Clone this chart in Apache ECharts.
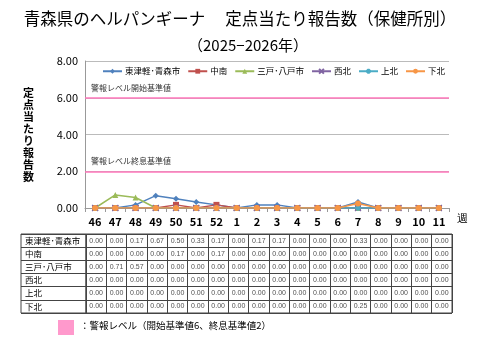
<!DOCTYPE html>
<html><head><meta charset="utf-8">
<script src="https://cdn.jsdelivr.net/npm/echarts@6/dist/echarts.min.js"></script>
<style>html,body{margin:0;padding:0;background:#fff}#c{width:480px;height:360px}</style>
</head><body><div id="c"></div>
<script>
const weeks = ['46','47','48','49','50','51','52','1','2','3','4','5','6','7','8','9','10','11'];
const regions = ['東津軽･青森市','中南','三戸･八戸市','西北','上北','下北'];
const tohtsugaru = [0,0,0.17,0.67,0.50,0.33,0.17,0,0.17,0.17,0,0,0,0.33,0,0,0,0];
const chunan     = [0,0,0,0,0.17,0,0.17,0,0,0,0,0,0,0,0,0,0,0];
const sannohe    = [0,0.71,0.57,0,0,0,0,0,0,0,0,0,0,0,0,0,0,0];
const seihoku    = [0,0,0,0,0,0,0,0,0,0,0,0,0,0,0,0,0,0];
const kamikita   = [0,0,0,0,0,0,0,0,0,0,0,0,0,0,0,0,0,0];
const shimokita  = [0,0,0,0,0,0,0,0,0,0,0,0,0,0.25,0,0,0,0];
const yTicks = [0,2,4,6,8];
const alarmStart = 6, alarmEnd = 2;

const allSeries = [tohtsugaru, chunan, sannohe, seihoku, kamikita, shimokita];
const colors = ['#4F81BD','#C0504D','#9BBB59','#8064A2','#4BACC6','#F79646'];
const symbols = ['diamond','rect','triangle','path://M0,0L10,10M10,0L0,10','path://M5,0L5,10M0,5L10,5M1.5,1.5L8.5,8.5M8.5,1.5L1.5,8.5','circle'];
const sizes = [6,6,6,6,6,6];
const font = '"Noto Sans CJK JP", sans-serif';

const lineSeries = regions.map((r,i)=>({
  name: r, type:'line', xAxisIndex:0, yAxisIndex:0,
  data: allSeries[i], symbol: symbols[i], symbolSize: sizes[i],
  lineStyle:{color:colors[i], width:1.5},
  itemStyle:{color:colors[i], borderColor:colors[i], borderWidth: (i===3||i===4)?1.2:0},
  z: 3+i
}));
lineSeries[0].markLine = {
  silent:true, symbol:'none',
  lineStyle:{color:'#FF77BB', width:1.5, type:'solid'},
  label:{show:true, position:'insideStartTop', color:'#333', fontSize:8, fontFamily:font, distance:[6,6]},
  data:[
    {yAxis: alarmStart, label:{formatter:'警報レベル開始基準値'}},
    {yAxis: alarmEnd, label:{formatter:'警報レベル終息基準値'}}
  ]
};

const tableData = [];
allSeries.forEach((arr,ri)=>arr.forEach((v,ci)=>tableData.push([ci, ri, v])));

const chart = echarts.init(document.getElementById('c'));
chart.setOption({
  animation:false,
  textStyle:{fontFamily:font},
  title:[
    {text:'青森県のヘルパンギーナ　 定点当たり報告数（保健所別）', left:'center', top:5, textStyle:{fontSize:16.5, fontWeight:'normal', color:'#000', fontFamily:font}},
    {text:'（2025−2026年）', left:243, textAlign:'center', top:33, textStyle:{fontSize:15, fontWeight:'normal', color:'#000', fontFamily:font}}
  ],
  legend:{
    data: regions, top:62, left:97, itemWidth:19, itemHeight:6, itemGap:7,
    textStyle:{fontSize:8.5, color:'#000', fontFamily:font, padding:[0,0,0,-2]}
  },
  grid:[
    {left:85, right:31, top:61, bottom:152},
    {left:86, right:28, top:234, bottom:47, show:true, borderColor:'#444', borderWidth:1},
    {left:21, width:65, top:234, bottom:47, show:true, borderColor:'#444', borderWidth:1}
  ],
  xAxis:[
    {type:'category', gridIndex:0, data:weeks, boundaryGap:true,
     axisLine:{lineStyle:{color:'#999'}}, axisTick:{show:true, interval:0, length:4, lineStyle:{color:'#999'}},
     axisLabel:{interval:0, fontSize:11, fontWeight:'bold', color:'#000', margin:8}},
    {type:'category', gridIndex:1, data:weeks, boundaryGap:true,
     axisLine:{show:false}, axisTick:{show:false}, axisLabel:{show:false},
     splitLine:{show:true, interval:0, lineStyle:{color:'#444', width:1}}},
    {type:'category', gridIndex:2, data:[''], axisLine:{show:false}, axisTick:{show:false}, axisLabel:{show:false}}
  ],
  yAxis:[
    {type:'value', gridIndex:0, min:yTicks[0], max:yTicks[yTicks.length-1], interval:2,
     name:'定\n点\n当\nた\nり\n報\n告\n数', nameLocation:'middle', nameRotate:0, nameGap:51,
     nameTextStyle:{fontSize:11, fontWeight:'bold', color:'#000', lineHeight:12, fontFamily:font},
     axisLine:{show:true, lineStyle:{color:'#999'}}, axisTick:{show:false},
     axisLabel:{fontSize:11, color:'#000', formatter:v=>v.toFixed(2), margin:7},
     splitLine:{show:true, lineStyle:{color:'#bbb'}}},
    {type:'category', gridIndex:1, data:regions, inverse:true, boundaryGap:true,
     axisLine:{show:false}, axisTick:{show:false}, axisLabel:{show:false},
     splitLine:{show:true, interval:0, lineStyle:{color:'#444', width:1}}},
    {type:'category', gridIndex:2, data:regions, inverse:true, boundaryGap:true,
     axisLine:{show:false}, axisTick:{show:false},
     axisLabel:{inside:true, margin:4, fontSize:8.5, color:'#000', fontFamily:font},
     splitLine:{show:true, interval:0, lineStyle:{color:'#444', width:1}}}
  ],
  series:[
    ...lineSeries,
    {type:'scatter', xAxisIndex:1, yAxisIndex:1, data:tableData, symbolSize:0, silent:true,
     label:{show:true, position:'inside', formatter:p=>p.value[2].toFixed(2), fontSize:7, color:'#222', fontFamily:'Liberation Sans, sans-serif'}}
  ],
  graphic:[
    {type:'text', left:457, top:213, style:{text:'週', fontSize:11, fill:'#000', font:'11px '+font}},
    {type:'rect', shape:{x:58, y:320, width:16, height:15}, style:{fill:'#FF99CC'}},
    {type:'text', left:80, top:321, style:{text:'：警報レベル（開始基準値6、終息基準値2）', font:'9.5px '+font, fill:'#000'}}
  ]
});
</script></body></html>
